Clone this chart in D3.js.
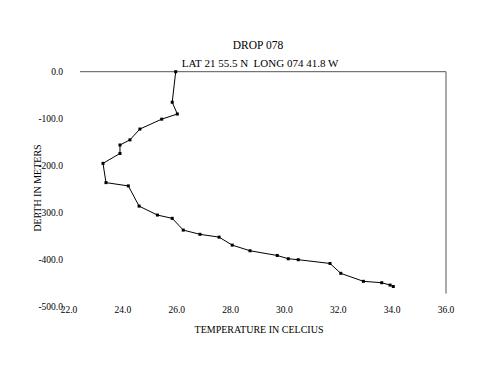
<!DOCTYPE html>
<html><head><meta charset="utf-8">
<title>Drop 078</title>
<script src="https://cdn.jsdelivr.net/npm/d3@7"></script>
<style>
body { margin: 0; background: #fff; }
text { font-family: "Liberation Serif", "Times New Roman", serif; fill: #000; }
</style>
</head>
<body>
<script>

// temperature (C) and depth (m)
var temps  = [26.0, 25.87, 26.06, 25.48, 24.67, 24.30, 23.93, 23.93, 23.30, 23.41, 24.24, 24.64, 25.32, 25.87,
              26.28, 26.90, 27.61, 28.10, 28.76, 29.77, 30.18, 30.55, 31.73, 32.13, 32.97, 33.65, 33.96, 34.08];
var depths = [0, -65, -90, -101, -122, -145, -156, -174, -195, -236, -243, -286, -305, -312,
              -337, -346, -352, -369, -381, -391, -398, -400, -408, -429, -446, -449, -454, -457];

var xTicks = [22, 24, 26, 28, 30, 32, 34, 36];
var yTicks = [0, -100, -200, -300, -400, -500];

var width = 500, height = 386;
var svg = d3.select("body").append("svg").attr("width", width).attr("height", height);

var x = d3.scaleLinear().domain([22, 36]).range([68, 445]);
var y = d3.scaleLinear().domain([-500, 0]).range([306.7, 71.7]);

// title
svg.append("text").attr("x", 258).attr("y", 49).attr("text-anchor", "middle")
	.style("font-size", "11.5px").text("DROP 078");
svg.append("text").attr("x", 260).attr("y", 67).attr("text-anchor", "middle")
	.style("font-size", "11px").attr("xml:space", "preserve")
	.text("LAT 21 55.5 N  LONG 074 41.8 W");

// frame: line along depth 0 and the right edge
svg.append("line")
	.attr("x1", x(22) + 12).attr("x2", x(36) + 1)
	.attr("y1", y(0)).attr("y2", y(0))
	.attr("stroke", "#555").attr("stroke-width", 1);
svg.append("line")
	.attr("x1", x(36) + 1).attr("x2", x(36) + 1)
	.attr("y1", y(0)).attr("y2", y(-472))
	.attr("stroke", "#555").attr("stroke-width", 1);

// tick labels
svg.append("g").selectAll("text").data(yTicks).enter().append("text")
	.attr("x", 63).attr("y", function(d) { return y(d) + 3; })
	.attr("text-anchor", "end").style("font-size", "9.5px")
	.text(function(d) { return d.toFixed(1); });

svg.append("g").selectAll("text").data(xTicks).enter().append("text")
	.attr("x", function(d) { return x(d) + 1; }).attr("y", 313)
	.attr("text-anchor", "middle").style("font-size", "9.5px")
	.text(function(d) { return d.toFixed(1); });

// axis titles
svg.append("text").attr("transform", "translate(41,188) rotate(-90)")
	.attr("text-anchor", "middle").style("font-size", "10px").text("DEPTH IN METERS");
svg.append("text").attr("x", 259).attr("y", 333)
	.attr("text-anchor", "middle").style("font-size", "10px").text("TEMPERATURE IN CELCIUS");

// profile
var pts = temps.map(function(t, i) { return [t, depths[i]]; });
var line = d3.line().x(function(d) { return x(d[0]); }).y(function(d) { return y(d[1]); });

svg.append("path").datum(pts)
	.attr("d", line)
	.attr("fill", "none")
	.attr("stroke", "#000")
	.attr("stroke-width", 1);

svg.append("g").selectAll("rect").data(pts).enter().append("rect")
	.attr("x", function(d) { return x(d[0]) - 1.5; })
	.attr("y", function(d) { return y(d[1]) - 1.5; })
	.attr("width", 3).attr("height", 3)
	.attr("fill", "#000");

</script>
</body></html>
